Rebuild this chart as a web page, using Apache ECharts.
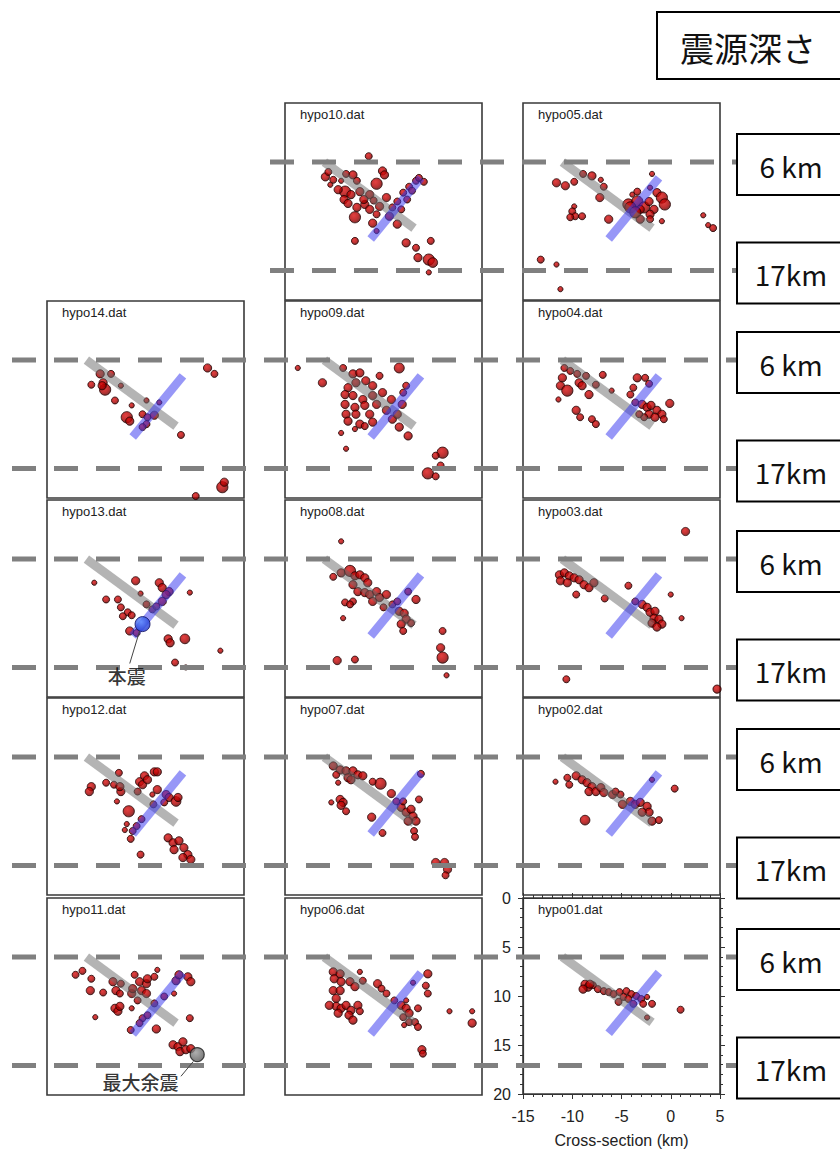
<!DOCTYPE html>
<html>
<head>
<meta charset="utf-8">
<script src="https://cdn.jsdelivr.net/npm/echarts@6/dist/echarts.min.js"></script>
<style>
html,body{margin:0;padding:0;background:#fff;}
#chart{width:840px;height:1149px;}
</style>
</head>
<body>
<div id="chart"></div>
<script>
// Hypocentres per relocation run: [cross-section km, depth km, magnitude class]
const hypo10 = [
[-6.5,5.4,1.6],[-10.9,7.5,2],[-10.4,8.3,1],[-9.3,7.9,1],[-8.8,7.2,1.6],[-8.1,7.3,2],[-7.7,7.9,1.6],
[-8.9,9.0,3],[-8.3,9.3,2],[-7.4,9.0,2],[-6.4,9.3,2],[-5.1,6.9,2],[-4.9,7.3,2],[-5.7,8.2,3],
[-6.9,10.3,2],[-7.9,11.6,3],[-7.7,10.6,2],[-6.4,10.8,2],[-5.4,10.5,2],[-4.4,11.5,2],[-5.7,11.3,1.6],
[-4.7,9.6,2],[-6.1,12.2,2],[-5.7,13.0,1],[-3.6,12.3,2],[-7.9,14.0,1.6],[-2.7,14.2,2],[-1.7,14.7,1.6],
[-0.2,14.0,1.6],[-1.5,15.7,2],[-0.4,15.9,3],[0.0,16.2,2.5],[-0.4,17.2,1],[-0.9,8.0,1.6],[-1.7,7.9,1.6],
[-1.4,7.6,1.6],[-2.4,8.5,1.6],[-3.0,9.1,1.6],[-3.6,10.0,1.6],[-4.1,10.6,1.6],
[-10.6,7.0,1.6],[-10.1,7.8,1.6],[-9.6,8.8,2],[-9.0,9.8,2],[-7.0,9.8,2],[-8.6,10.2,2],[-6.0,9.9,1.6],
[-2.1,8.9,1.6],[-2.6,9.8,1.6],[-3.2,10.8,1.6]
];
const hypo05 = [
[-11.6,8.1,2],[-10.7,8.4,2],[-9.8,8.0,1.6],[-8.9,7.2,1.6],[-8.0,7.4,2],[-7.1,7.8,1],[-6.8,8.5,1.6],[-7.2,9.6,2],
[-9.8,10.5,1],[-10.0,11.0,1.6],[-9.7,11.5,1.6],[-10.2,11.6,1.6],[-9.0,11.5,1.6],[-6.3,11.8,2],
[-3.9,9.3,1],[-4.3,10.3,3],[-3.4,10.0,3],[-2.7,10.6,3],[-2.2,10.0,2],[-1.4,9.1,2],[-0.9,9.6,3],[-0.6,10.3,3],
[-1.7,10.8,2],[-2.1,11.3,2],[-3.1,11.8,2],[-1.9,7.2,1],[-2.1,8.6,1],[-3.4,9.0,1.6],[-3.1,10.8,2],[-0.9,12.0,1],
[-2.1,11.8,1.6],[3.3,11.4,1],[3.8,12.4,1],[4.3,12.7,1.6],[-13.2,15.9,1.6],[-11.6,16.4,1],[-4.1,10.6,3],
[-3.6,11.1,3],[-11.2,18.9,1]
];
const hypo14 = [
[-9.6,7.4,2],[-8.5,7.4,1.6],[-10.5,8.5,1.6],[-9.3,8.3,2],[-9.1,9.0,3],[-9.4,8.6,2],[-7.5,8.6,1],[-8.1,10.1,1.6],
[-6.4,10.6,1],[-4.9,10.1,1],[-6.9,11.8,3],[-6.6,12.2,2],[-5.3,11.5,1.6],[-4.8,11.8,1.6],[-4.1,11.6,2],[-4.9,12.5,1.6],
[-5.3,12.8,1.6],[-3.6,10.3,1],[-1.4,13.6,1.6],[1.3,6.8,2],[2.0,7.4,1.6],[2.8,18.9,3],[3.0,18.4,2],[0.1,19.8,1.6]
];
const hypo09 = [
[-13.7,6.8,1],[-11.2,8.3,2],[-9.1,6.8,1.6],[-8.1,7.4,2],[-7.4,7.3,2],[-5.4,7.6,1.6],[-3.4,6.8,2.6],
[-8.6,8.8,2],[-7.8,8.3,2],[-6.8,8.1,2],[-6.1,8.6,2],[-8.9,9.5,2],[-8.1,9.6,2],[-7.1,10.0,2],[-6.1,9.6,2],
[-5.1,9.3,2],[-4.2,10.0,2],[-8.9,10.5,2],[-7.9,10.8,2],[-6.9,10.6,2],[-5.7,10.5,2],[-8.8,11.5,2],[-7.8,11.5,2],
[-6.4,11.5,2],[-4.7,11.1,2],[-8.6,12.2,2],[-7.4,12.5,2],[-6.1,12.3,2],[-4.1,12.0,2],[-3.6,11.5,2],[-3.4,12.8,2],
[-3.1,10.5,2],[-2.7,8.6,1.6],[-3.0,9.3,1.6],[-2.5,13.7,2],[-6.9,12.7,1.6],[-7.9,13.0,1],[-9.3,13.4,1],[-8.8,15.0,1],
[1.0,15.4,3],[0.3,15.7,1.6],[0.8,16.7,1.6],[-0.5,17.5,3],[0.3,17.8,1.6]
];
const hypo04 = [
[-10.8,6.8,1.6],[-10.2,7.1,1.6],[-9.5,7.4,1.6],[-8.6,7.6,1.6],[-11.0,7.8,2],[-11.2,8.6,2],[-10.5,9.1,3],
[-9.3,8.3,2],[-9.0,8.6,2],[-8.3,9.5,2],[-6.9,7.5,1.6],[-7.6,8.5,1.6],[-6.0,9.1,1],[-11.4,10.0,1],
[-9.6,11.1,2],[-9.2,11.8,1.6],[-8.0,12.0,1.6],[-7.6,12.5,1.6],[-4.1,9.5,1.6],[-3.8,8.8,1.6],[-3.4,7.8,2],
[-2.6,7.8,1.6],[-2.2,8.4,1.6],[-3.6,10.3,1.6],[-2.9,10.5,2],[-2.4,10.8,2],[-2.0,10.6,2],[-1.4,11.1,2],
[-0.9,11.5,2],[-2.2,11.5,2],[-1.6,11.8,2],[-2.7,11.8,1.6],[-0.1,10.4,2],[-0.7,12.0,1.6],[-3.2,11.5,1.6]
];
const hypo13 = [
[-10.2,8.4,1],[-6.0,8.2,2],[-3.6,8.4,2],[-3.3,8.9,2],[-2.6,9.3,2],[-2.9,9.6,2],[-3.3,10.3,2],[-0.5,9.4,1],
[-5.5,9.5,1],[-9.0,10.1,1.6],[-7.8,10.1,1.6],[-7.5,10.9,1.6],[-6.8,11.4,1.6],[-7.3,11.8,1.6],[-6.4,11.7,1.6],
[-4.9,10.6,1.6],[-4.3,11.1,1.6],[-3.9,10.8,1.6],[-6.6,13.3,2],[-5.9,13.5,1.6],[-2.7,14.1,2],[-2.5,14.5,2],
[-1.0,14.1,2.5],[2.6,15.3,1],[-2.0,16.5,1.6],[-0.9,17.0,1]
];
const hypo08 = [
[-9.3,4.2,1],[-10.1,7.8,1.6],[-9.3,7.4,2],[-8.4,7.2,3],[-7.9,7.7,2],[-7.4,7.6,2],[-6.9,7.9,2],[-6.6,8.4,2],
[-8.1,8.6,2],[-7.6,9.3,2],[-6.9,9.4,2],[-6.4,9.6,2],[-5.7,9.3,2],[-5.4,9.9,2],[-4.7,9.6,2],[-6.1,10.3,2],
[-8.9,10.4,1.6],[-8.1,10.3,1.6],[-8.4,10.6,1.6],[-5.0,10.9,1.6],[-9.1,12.0,1],[-4.1,10.6,1.6],[-3.6,10.3,1.6],
[-2.5,9.3,1.6],[-1.7,10.1,2],[-3.4,11.3,2],[-2.9,11.5,2],[-2.7,12.1,2],[-3.2,12.6,2],[-3.0,13.3,1.6],[-2.2,12.5,1.6],
[-9.7,16.3,2],[-7.9,16.2,1.6],[1.0,13.3,1.6],[0.8,15.0,2],[1.0,16.0,3],[1.4,17.8,1]
];
const hypo03 = [
[1.5,3.2,2],[-11.3,7.6,2],[-10.8,7.4,2],[-10.3,7.7,2],[-11.2,8.2,2],[-10.5,8.4,2],[-9.8,7.9,2],[-9.3,8.1,2],
[-8.8,8.6,2],[-8.3,8.9,2],[-7.8,8.4,2],[-9.6,9.6,1.6],[-6.7,10.0,1.6],[-4.3,8.7,1.6],[0.0,9.6,1],
[-3.6,10.3,1.6],[-2.9,10.6,2],[-2.4,10.9,2],[-2.1,11.4,2],[-1.6,11.3,2],[-1.7,12.0,2],[-1.2,12.1,2],
[-0.9,12.6,2],[-1.9,12.5,2],[-1.4,12.9,2],[1.1,12.0,1],[-10.6,18.2,1.6],[4.7,19.2,2]
];
const hypo12 = [
[-10.5,9.0,2],[-10.7,9.5,2],[-9.0,8.6,1.6],[-8.2,8.8,1.6],[-7.7,7.6,1.6],[-7.5,9.5,2],[-7.6,9.0,2],[-7.9,10.5,1],
[-6.7,11.5,3],[-5.6,8.5,2],[-5.1,7.9,2],[-5.3,8.8,2],[-4.8,8.3,2],[-4.1,7.5,2],[-3.8,7.5,2],[-5.8,9.5,1.6],
[-4.3,9.8,1],[-3.8,9.3,2],[-2.9,9.8,2],[-2.6,10.1,2],[-1.9,10.5,2.5],[-1.7,10.1,2],[-3.1,10.6,1.6],[-4.2,10.8,1.6],
[-5.4,12.3,1.6],[-5.9,13.0,1.6],[-6.3,13.5,1.6],[-6.9,12.8,1],[-7.1,13.4,1],[-6.5,14.3,1.6],[-5.5,15.9,1.6],
[-2.7,14.2,2],[-2.2,14.7,2],[-1.6,14.5,2],[-2.1,15.4,2],[-1.1,15.2,2],[-0.7,15.9,2],[-0.4,16.4,2],[-1.2,16.2,2]
];
const hypo07 = [
[-10.1,6.9,2],[-9.4,7.3,2],[-8.8,7.4,2],[-8.1,7.4,2],[-7.6,7.8,2],[-7.1,7.9,2],[-9.8,7.8,1.6],[-8.6,8.1,2],
[-8.3,8.3,2],[-5.3,8.7,3],[-9.6,8.6,1],[-6.1,8.5,1.6],[-4.2,9.7,2],[-10.3,10.6,1],[-9.4,10.3,2],[-9.1,10.6,2],
[-9.3,10.9,2],[-8.8,11.5,1.6],[-6.2,12.1,2],[-5.1,13.7,1.6],[-3.7,10.5,1.6],[-3.2,11.1,2],[-2.7,11.6,2],
[-2.2,11.3,2],[-2.0,12.0,2],[-1.7,12.5,2],[-2.5,12.5,2],[-3.0,10.5,1.6],[-1.4,10.3,1.6],[-1.2,7.7,1.6],
[-1.9,13.5,1.6],[-1.8,14.1,1.6],[0.3,16.7,2],[1.2,16.7,2],[1.5,17.4,2],[1.3,18.0,1.6]
];
const hypo02 = [
[-11.7,8.5,1],[-10.5,8.1,1.6],[-10.3,8.8,1.6],[-9.6,7.9,2],[-9.0,8.3,2],[-8.5,8.6,2],[-8.0,9.0,2],[-8.3,9.5,2],
[-7.6,9.5,2],[-7.1,9.1,2],[-6.8,9.6,2],[-5.9,9.8,2],[-5.1,9.8,1.6],[-5.6,9.5,1.6],[-4.9,10.8,2],[-4.1,10.5,2],
[-3.6,10.8,2],[-3.1,10.6,2],[-2.4,11.0,2],[-2.2,11.6,2],[-2.9,11.6,2],[-1.9,12.5,2],[-1.2,12.4,1.6],
[-8.7,12.4,2.5],[-1.9,8.3,1],[0.4,9.2,1.6]
];
const hypo11 = [
[-12.1,7.8,1.6],[-11.4,7.4,1.6],[-10.5,8.2,1.6],[-10.6,9.4,2],[-9.3,9.6,1.6],[-10.1,12.1,1],[-8.3,8.5,2],
[-8.0,9.4,2],[-7.6,9.7,1.6],[-7.5,8.7,1.6],[-8.1,11.2,2],[-7.8,11.5,2],[-7.6,11.0,2],[-6.4,11.2,1],
[-6.1,7.8,1.6],[-5.6,8.5,2],[-4.9,8.7,2],[-4.8,8.2,2],[-4.1,8.0,1.6],[-3.8,7.3,1],[-6.4,9.7,2],[-5.8,10.4,1.6],
[-5.4,9.4,2],[-4.9,9.7,2],[-6.3,9.2,2],[-4.1,10.7,1.6],[-3.1,10.0,1.6],[-5.3,12.2,1.6],[-4.8,11.9,1.6],
[-6.5,13.4,1.6],[-5.6,12.7,1.6],[-3.9,13.3,2],[-2.1,9.7,1],[-1.9,8.4,2],[-1.6,7.8,2],[-0.7,8.0,2],[-0.4,8.5,2],
[-0.5,12.2,1.6],[-2.2,14.9,2],[-1.7,15.1,2],[-1.2,14.6,2],[-1.5,15.6,2],[-0.9,15.4,2],[-0.4,15.3,2]
];
const hypo06 = [
[-10.1,7.5,2],[-10.0,8.2,2],[-9.4,7.7,2],[-9.3,8.5,2],[-10.1,9.4,2],[-9.4,9.4,2],[-8.4,8.5,2],[-7.9,9.0,2],
[-7.4,7.5,1],[-7.1,8.4,1.6],[-5.6,8.7,2],[-5.2,9.2,1.6],[-9.8,10.2,2],[-9.8,11.0,2],[-10.5,10.9,2],[-9.3,11.2,2],
[-8.8,10.9,2],[-8.3,11.4,2],[-7.6,10.9,2],[-8.5,11.9,2],[-8.1,12.4,2],[-9.6,11.7,2],[-7.4,11.5,1.6],[-4.7,9.7,1.6],
[-3.9,10.4,1.6],[-3.2,10.9,2],[-2.7,11.2,2],[-2.4,11.7,2],[-2.7,10.4,1],[-1.5,11.2,1.6],[-3.0,12.1,1.6],
[-2.4,12.6,1.6],[-1.8,12.6,1.6],[-1.5,13.1,1.6],[-2.9,12.9,1],[-0.5,7.7,2],[-0.7,8.9,1.6],[-0.5,9.7,1.6],
[-2.0,8.6,1],[-1.1,15.4,2],[-1.0,15.8,1.6],[1.7,11.5,1],[4.0,11.5,1],[4.0,12.7,2]
];
const hypo01 = [
[-8.7,8.8,2],[-8.4,9.1,2],[-7.9,8.9,1.6],[-7.4,9.3,1.6],[-6.8,9.5,1.6],[-6.3,9.6,1.6],[-5.8,9.8,1.6],[-5.2,9.6,1.6],
[-4.5,9.5,1.6],[-4.0,9.8,1.6],[-4.8,10.1,1.6],[-5.3,10.6,1.6],[-4.3,10.3,1.6],[-3.5,10.0,1.6],[-3.0,10.3,1.6],
[-2.4,10.1,1],[-1.9,10.8,1.6],[-2.8,10.8,1.6],[-3.8,10.8,1.6],[-2.4,12.2,1],[1.0,11.4,1.6],[-8.9,9.3,2],[-8.2,8.8,2]
];

// Fault plane traces (cross-section km, depth km)
const grayPlane = [[-11.0, 6.0], [-1.9, 12.7]];
const bluePlane = [[-6.3, 13.8], [-1.2, 7.6]];

// Notable events
const mainShock = [-5.3, 12.6];
const mainShockLabel = { text: '本震', from: [-5.6, 13.3], to: [-6.6, 16.6], at: [-6.9, 17.8] };
const maxAftershock = [0.25, 15.9];
const maxAftershockLabel = { text: '最大余震', from: [-0.15, 16.6], to: [-1.4, 18.1], at: [-5.5, 18.6] };

// Reference depths and axis ticks
const refDepths = [6, 17];
const refLabels = ['6 km', '17km'];
const depthTicks = [0, 5, 10, 15, 20];
const sectionTicks = [-15, -10, -5, 0, 5];
const heading = '震源深さ';

const runs = [
  { name: 'hypo10.dat', col: 1, row: 0, data: hypo10 },
  { name: 'hypo05.dat', col: 2, row: 0, data: hypo05 },
  { name: 'hypo14.dat', col: 0, row: 1, data: hypo14 },
  { name: 'hypo09.dat', col: 1, row: 1, data: hypo09 },
  { name: 'hypo04.dat', col: 2, row: 1, data: hypo04 },
  { name: 'hypo13.dat', col: 0, row: 2, data: hypo13 },
  { name: 'hypo08.dat', col: 1, row: 2, data: hypo08 },
  { name: 'hypo03.dat', col: 2, row: 2, data: hypo03 },
  { name: 'hypo12.dat', col: 0, row: 3, data: hypo12 },
  { name: 'hypo07.dat', col: 1, row: 3, data: hypo07 },
  { name: 'hypo02.dat', col: 2, row: 3, data: hypo02 },
  { name: 'hypo11.dat', col: 0, row: 4, data: hypo11 },
  { name: 'hypo06.dat', col: 1, row: 4, data: hypo06 },
  { name: 'hypo01.dat', col: 2, row: 4, data: hypo01, axes: true }
];

// ---- layout ----
const COL_LEFT = [47, 285, 523];
const ROW_TOP = [103, 301, 500, 698, 898];
const PANEL_W = 197, PANEL_H = 197;
const DASH_LEFT = [270, 12, 12, 12, 12];
const DASH_RIGHT = 737;
const SANS = '"Liberation Sans", Arial, sans-serif';
const JP = '"Noto Sans CJK JP", sans-serif';

const grid = [], xAxis = [], yAxis = [], series = [], title = [];

const redDot = {
  type: 'radial', x: 0.4, y: 0.35, r: 0.7,
  colorStops: [{ offset: 0, color: '#dd1010' }, { offset: 0.55, color: '#b00000' }, { offset: 1, color: '#5a0000' }]
};

function tickAxis(extra) {
  return Object.assign({
    type: 'value', splitLine: { show: false },
    axisLine: { show: true, onZero: false, lineStyle: { color: '#333', width: 1.2 } },
    axisTick: { show: true, inside: false, length: 5, lineStyle: { color: '#333' } },
    minorTick: { show: true, splitNumber: 5, length: 3, lineStyle: { color: '#333' } }
  }, extra);
}

runs.forEach((p, i) => {
  const left = COL_LEFT[p.col], top = ROW_TOP[p.row];
  grid.push({ left, top, width: PANEL_W, height: PANEL_H, show: true,
    borderColor: '#3a3a3a', borderWidth: 1.6, backgroundColor: '#fff', containLabel: false });
  const xi = xAxis.length, yi = yAxis.length;
  if (p.axes) {
    xAxis.push(tickAxis({ gridIndex: i, min: -15, max: 5, interval: 5, position: 'bottom',
      axisLabel: { fontSize: 16, color: '#222', fontFamily: SANS, margin: 14,
        formatter: v => sectionTicks.includes(v) ? String(v) : '' },
      name: 'Cross-section (km)', nameLocation: 'middle', nameGap: 38,
      nameTextStyle: { fontSize: 16, color: '#222', fontFamily: SANS } }));
    xAxis.push(tickAxis({ gridIndex: i, min: -15, max: 5, interval: 5, position: 'top',
      axisLabel: { show: false } }));
    yAxis.push(tickAxis({ gridIndex: i, min: 0, max: 20, interval: 5, inverse: true, position: 'left',
      axisLabel: { fontSize: 16, color: '#222', fontFamily: SANS, margin: 12,
        formatter: v => depthTicks.includes(v) ? String(v) : '' } }));
    yAxis.push(tickAxis({ gridIndex: i, min: 0, max: 20, interval: 5, inverse: true, position: 'right',
      axisLabel: { show: false } }));
  } else {
    xAxis.push({ type: 'value', gridIndex: i, min: -15, max: 5, show: false });
    yAxis.push({ type: 'value', gridIndex: i, min: 0, max: 20, inverse: true, show: false });
  }
  title.push({ text: p.name, left: left + 15, top: top + 5, padding: 0,
    textStyle: { fontSize: 13, fontWeight: 'normal', color: '#222', fontFamily: SANS } });

  series.push({
    type: 'scatter', xAxisIndex: xi, yAxisIndex: yi, data: p.data, clip: true, z: 2,
    symbolSize: v => 2.2 + 3 * v[2],
    itemStyle: { color: redDot, borderColor: '#220000', borderWidth: 1 }
  });
  series.push({
    type: 'line', xAxisIndex: xi, yAxisIndex: yi, data: grayPlane, symbol: 'none', z: 3,
    lineStyle: { color: 'rgba(105,105,105,0.5)', width: 9, cap: 'butt' }
  });
  series.push({
    type: 'line', xAxisIndex: xi, yAxisIndex: yi, data: bluePlane, symbol: 'none', z: 3,
    lineStyle: { color: 'rgba(55,55,240,0.52)', width: 8.5, cap: 'butt' }
  });

  if (p.name === 'hypo13.dat') {
    series.push({ type: 'scatter', xAxisIndex: xi, yAxisIndex: yi, data: [mainShock], symbolSize: 15, z: 4,
      itemStyle: { color: { type: 'radial', x: 0.4, y: 0.35, r: 0.7,
        colorStops: [{ offset: 0, color: '#5b8cff' }, { offset: 1, color: '#1428c8' }] },
        borderColor: '#0c0c5a', borderWidth: 1 } });
    addNote(mainShockLabel, xi, yi);
  }
  if (p.name === 'hypo11.dat') {
    series.push({ type: 'scatter', xAxisIndex: xi, yAxisIndex: yi, data: [maxAftershock], symbolSize: 14, z: 4,
      itemStyle: { color: { type: 'radial', x: 0.4, y: 0.35, r: 0.7,
        colorStops: [{ offset: 0, color: '#9a9a9a' }, { offset: 1, color: '#555' }] },
        borderColor: '#1a1a1a', borderWidth: 1.2 } });
    addNote(maxAftershockLabel, xi, yi);
  }
});

function addNote(note, xi, yi) {
  series.push({ type: 'line', xAxisIndex: xi, yAxisIndex: yi, data: [note.from, note.to], symbol: 'none', z: 6,
    lineStyle: { color: '#444', width: 1 } });
  series.push({ type: 'scatter', xAxisIndex: xi, yAxisIndex: yi, data: [note.at], symbolSize: 0, z: 7, clip: false,
    label: { show: true, position: 'inside', formatter: note.text, fontSize: 19, fontWeight: 500,
      color: '#000', fontFamily: JP } });
}

// Reference-depth guide rows (one invisible grid per row of panels)
const rowGridStart = grid.length;
ROW_TOP.forEach((top, r) => {
  const gi = grid.length;
  grid.push({ left: DASH_LEFT[r], top, width: DASH_RIGHT - DASH_LEFT[r], height: PANEL_H, show: false });
  const xi = xAxis.length, yi = yAxis.length;
  xAxis.push({ type: 'value', gridIndex: gi, min: 0, max: 1, show: false });
  yAxis.push({ type: 'value', gridIndex: gi, min: 0, max: 20, inverse: true, show: false });
  refDepths.forEach(d => {
    series.push({ type: 'line', xAxisIndex: xi, yAxisIndex: yi, data: [[0, d], [1, d]], symbol: 'none', z: 5,
      lineStyle: { color: '#808080', width: 5, type: [24, 18] } });
  });
});

const chart = echarts.init(document.getElementById('chart'), null, { renderer: 'svg' });
chart.setOption({ animation: false, backgroundColor: '#fff', grid, xAxis, yAxis, series, title });

// Depth label boxes placed at the guide lines
const graphic = [
  { type: 'rect', shape: { x: 657, y: 12, width: 200, height: 67 }, z: 10,
    style: { fill: '#fff', stroke: '#000', lineWidth: 2 } },
  { type: 'text', x: 748, y: 47, z: 11,
    style: { text: heading, fontSize: 34, fontFamily: JP, fill: '#111', align: 'center', verticalAlign: 'middle' } }
];
ROW_TOP.forEach((top, r) => {
  refDepths.forEach((d, k) => {
    const y = chart.convertToPixel({ gridIndex: rowGridStart + r }, [1, d])[1];
    graphic.push({ type: 'rect', shape: { x: 737, y: y - 28, width: 120, height: 61 }, z: 10,
      style: { fill: '#fff', stroke: '#000', lineWidth: 2 } });
    graphic.push({ type: 'text', x: 791, y: y + 4, z: 11,
      style: { text: refLabels[k], fontSize: 28, fontFamily: JP, fill: '#111', align: 'center', verticalAlign: 'middle' } });
  });
});
chart.setOption({ graphic });
</script>
</body>
</html>
